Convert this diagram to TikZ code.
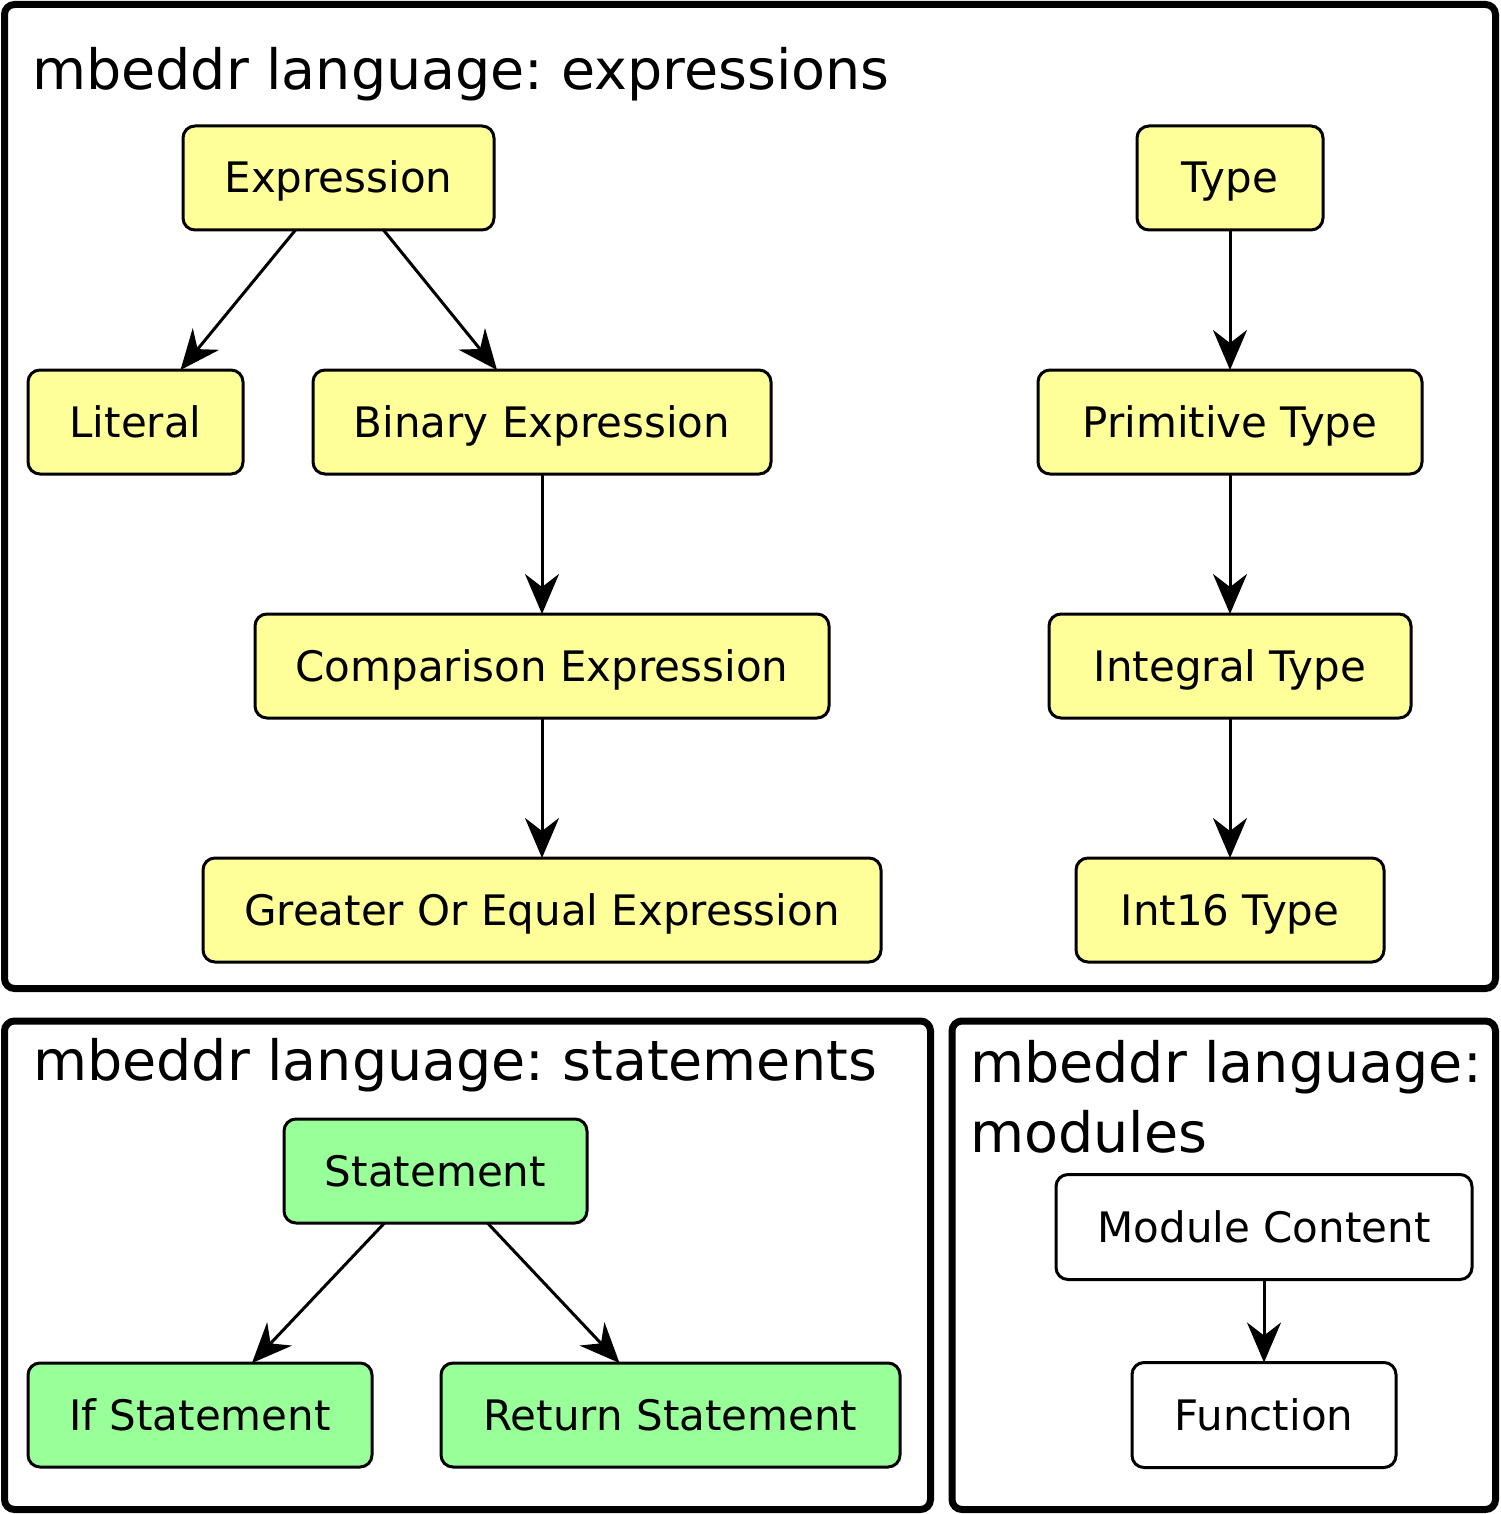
\documentclass[tikz,border=0pt]{standalone}
\usepackage{fontspec}
\setmainfont{DejaVu Sans}
\frenchspacing
\usetikzlibrary{arrows.meta}
\definecolor{ylw}{HTML}{FFFF99}
\definecolor{grn}{HTML}{99FF99}
\tikzset{
  box/.style={draw=black, line width=3pt, rounded corners=12pt, outer sep=0pt,
    inner sep=0pt, text height=40pt, text depth=10pt, minimum height=104pt,
    font=\fontsize{42}{50}\selectfont},
  ybox/.style={box, fill=ylw},
  gbox/.style={box, fill=grn},
  wbox/.style={box, fill=white},
  frame/.style={draw=black, line width=7pt, rounded corners=10pt},
  title/.style={anchor=base west, inner sep=0pt, align=left,
    font=\fontsize{55.5}{70}\selectfont},
  arr/.style={line width=3pt, -{Stealth[length=40pt,width=34pt,inset=13pt]}}
}
\begin{document}
\frenchspacing
\begin{tikzpicture}[x=1pt,y=-1pt]
\useasboundingbox (0,0) rectangle (1500,1514);
% frames
\draw[frame] (4.5,4.5) rectangle (1495.5,988.5);
\draw[frame] (4.5,1021) rectangle (930.5,1509.5);
\draw[frame] (952,1021) rectangle (1495.5,1509.5);
% titles
\node[title] (t1) at (32,90) {mbeddr language: expressions};
\node[title] (t2) at (33,1080) {mbeddr language: statements};
\node[title] (t3) at (970,1152) {mbeddr language:\\modules};
% expressions
\node[ybox, minimum width=311pt] (expr) at (338.5,178) {Expression};
\node[ybox, minimum width=215pt] (lit) at (135.5,422) {Literal};
\node[ybox, minimum width=458pt] (bin) at (542,422) {Binary Expression};
\node[ybox, minimum width=574pt] (cmp) at (542,666) {Comparison Expression};
\node[ybox, minimum width=678pt] (geq) at (542,910) {Greater Or Equal Expression};
% types
\node[ybox, minimum width=186pt] (type) at (1230,178) {Type};
\node[ybox, minimum width=384pt] (prim) at (1230,422) {Primitive Type};
\node[ybox, minimum width=362pt] (integ) at (1230,666) {Integral Type};
\node[ybox, minimum width=308pt] (i16) at (1230,910) {Int16 Type};
% statements
\node[gbox, minimum width=303pt] (stmt) at (435.5,1171) {Statement};
\node[gbox, minimum width=344pt] (ifs) at (200,1415) {If Statement};
\node[gbox, minimum width=459pt] (ret) at (670.5,1415) {Return Statement};
% modules
\node[wbox, minimum width=416pt, minimum height=105pt] (mod) at (1264,1227) {Module Content};
\node[wbox, minimum width=264pt, minimum height=105pt] (fun) at (1264,1415) {Function};
% connectors
\draw[arr] ([xshift=-43pt]expr.south) -- ([xshift=45pt]lit.north);
\draw[arr] ([xshift=45pt]expr.south) -- ([xshift=-45pt]bin.north);
\draw[arr] (bin.south) -- (cmp.north);
\draw[arr] (cmp.south) -- (geq.north);
\draw[arr] (type.south) -- (prim.north);
\draw[arr] (prim.south) -- (integ.north);
\draw[arr] (integ.south) -- (i16.north);
\draw[arr] ([xshift=-51pt]stmt.south) -- ([xshift=52pt]ifs.north);
\draw[arr] ([xshift=52pt]stmt.south) -- ([xshift=-51pt]ret.north);
\draw[arr] (mod.south) -- (fun.north);
\end{tikzpicture}
\end{document}
